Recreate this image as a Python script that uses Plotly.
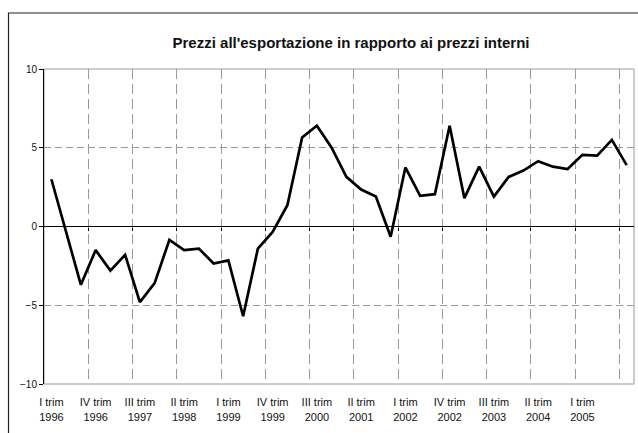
import plotly.graph_objects as go

# ---- data ----
years = list(range(1996, 2006))
quarter_names = ["I trim", "II trim", "III trim", "IV trim"]
categories = [f"{q}<br>{y}" for y in years for q in quarter_names]

values = [3.0, -0.4, -3.7, -1.5, -2.8, -1.8, -4.8, -3.6, -0.85, -1.5,
          -1.4, -2.35, -2.15, -5.7, -1.4, -0.35, 1.35, 5.65, 6.4, 5.0,
          3.15, 2.35, 1.9, -0.65, 3.75, 1.95, 2.05, 6.4, 1.8, 3.8,
          1.9, 3.15, 3.55, 4.15, 3.8, 3.65, 4.55, 4.5, 5.5, 3.9]

tick_labels = categories[0:37:3]          # I trim 1996 ... I trim 2005
y_ticks = [-10, -5, 0, 5, 10]
title_text = "Prezzi all'esportazione in rapporto ai prezzi interni"

# ---- layout constants ----
W, H = 638, 433
ML, MR, MT, MB = 44, 4, 69, 49
PW, PH = W - ML - MR, H - MT - MB
FONT = "Liberation Sans, Arial, sans-serif"
GRID = "#9a9a9a"

n = len(categories)
boundaries = [i - 0.5 for i in range(3, n, 3)]   # grid lines between quarter groups

fig = go.Figure()
fig.add_trace(go.Scatter(
    x=categories, y=values, mode="lines",
    line=dict(color="black", width=2.7),
    showlegend=False, hoverinfo="x+y",
))
# invisible helper trace so the overlay axis (grid / zero-line ticks) is drawn
fig.add_trace(go.Scatter(x=[None], y=[None], xaxis="x2", yaxis="y",
                         showlegend=False, hoverinfo="skip"))

fig.update_layout(
    width=W, height=H,
    margin=dict(l=ML, r=MR, t=MT, b=MB, pad=0),
    paper_bgcolor="white", plot_bgcolor="white",
    font=dict(family=FONT, color="black"),
    title=dict(text=f"<b>{title_text}</b>", x=351 / W, xanchor="center",
               y=1 - 43 / H, yanchor="middle",
               font=dict(size=15, family=FONT, color="#111")),
    xaxis=dict(type="category", range=[-0.5, n - 0.5],
               tickmode="array", tickvals=tick_labels, ticktext=tick_labels,
               showgrid=False, zeroline=False, showline=False,
               ticks="outside", ticklen=8, tickcolor="rgba(0,0,0,0)",
               tickfont=dict(size=11, family=FONT, color="#111"),
               fixedrange=True),
    xaxis2=dict(overlaying="x", anchor="free", position=0.5, type="linear",
                range=[-0.5, n - 0.5], tickmode="array", tickvals=boundaries,
                showticklabels=False, showgrid=True, gridcolor=GRID,
                griddash="10px,5px", gridwidth=1, zeroline=False,
                showline=False, ticks="outside", ticklen=3,
                tickcolor="black", tickwidth=1, fixedrange=True),
    yaxis=dict(range=[-10, 10], tickmode="array", tickvals=y_ticks,
               showgrid=True, gridcolor=GRID, griddash="7px,4px", gridwidth=1,
               zeroline=True, zerolinecolor="black", zerolinewidth=1,
               showline=True, linecolor="black", linewidth=1,
               ticks="outside", ticklen=4, tickcolor="black",
               tickfont=dict(size=10, family=FONT, color="#111"),
               fixedrange=True),
    shapes=[
        # plot-area border (grey)
        dict(type="rect", xref="paper", yref="paper", x0=0, x1=1, y0=0, y1=1,
             line=dict(color=GRID, width=1), layer="below"),
        # chart-area border (black, runs off the picture right / bottom)
        dict(type="rect", xref="paper", yref="paper",
             x0=(8.5 - ML) / PW, x1=1.2, y0=-0.6, y1=1 + (MT - 13) / PH,
             line=dict(color="#222", width=1.2), layer="above"),
    ],
)

fig.write_html("out.html", config={"displayModeBar": False},
               post_script="document.body.style.margin='0';"
                           "document.body.style.overflow='hidden';")
